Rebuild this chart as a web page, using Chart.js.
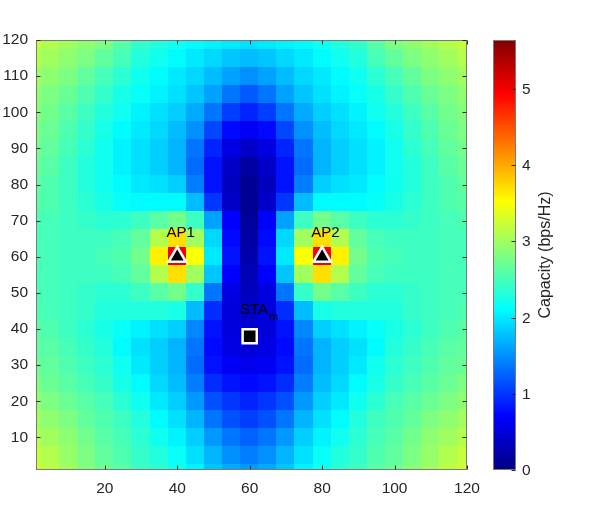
<!DOCTYPE html>
<html>
<head>
<meta charset="utf-8">
<script src="https://cdn.jsdelivr.net/npm/chart.js@4.4.1/dist/chart.umd.min.js"></script>
<style>
  html, body { margin: 0; padding: 0; background: #fff; }
</style>
</head>
<body>
<canvas id="cap" width="598" height="529"></canvas>
<script>
/* DATA */
const gridX = [0, 5, 10, 15, 20, 25, 30, 35, 40, 45, 50, 55, 60, 65, 70, 75, 80, 85, 90, 95, 100, 105, 110, 115, 120];
const gridY = [120, 115, 110, 105, 100, 95, 90, 85, 80, 75, 70, 65, 60, 55, 50, 45, 40, 35, 30, 25, 20, 15, 10, 5, 0];

// capacity (bps/Hz), one row per gridY value
const capacity = [
  [3.2,3.1,3.0,2.9,2.8,2.6,2.4,2.3,2.2,2.1,2.05,2.0,1.95,2.0,2.05,2.1,2.2,2.3,2.4,2.6,2.8,2.9,3.0,3.1,3.2],
  [3.1,3.0,2.9,2.8,2.65,2.5,2.3,2.2,2.1,2.0,1.9,1.8,1.75,1.8,1.9,2.0,2.1,2.2,2.3,2.5,2.65,2.8,2.9,3.0,3.1],
  [3.0,2.9,2.8,2.65,2.5,2.35,2.2,2.1,2.0,1.9,1.75,1.6,1.5,1.6,1.75,1.9,2.0,2.1,2.2,2.35,2.5,2.65,2.8,2.9,3.0],
  [2.9,2.8,2.7,2.55,2.4,2.25,2.15,2.05,1.95,1.8,1.6,1.35,1.2,1.35,1.6,1.8,1.95,2.05,2.15,2.25,2.4,2.55,2.7,2.8,2.9],
  [2.85,2.75,2.6,2.45,2.3,2.2,2.05,1.95,1.85,1.65,1.35,1.05,0.9,1.05,1.35,1.65,1.85,1.95,2.05,2.2,2.3,2.45,2.6,2.75,2.85],
  [2.8,2.7,2.55,2.4,2.25,2.1,2.0,1.9,1.75,1.5,1.1,0.75,0.65,0.75,1.1,1.5,1.75,1.9,2.0,2.1,2.25,2.4,2.55,2.7,2.8],
  [2.75,2.65,2.5,2.35,2.2,2.05,1.95,1.85,1.7,1.35,0.9,0.55,0.4,0.55,0.9,1.35,1.7,1.85,1.95,2.05,2.2,2.35,2.5,2.65,2.75],
  [2.7,2.6,2.45,2.3,2.2,2.05,1.95,1.85,1.7,1.3,0.8,0.4,0.2,0.4,0.8,1.3,1.7,1.85,1.95,2.05,2.2,2.3,2.45,2.6,2.7],
  [2.65,2.55,2.45,2.3,2.2,2.1,2.0,1.95,1.85,1.4,0.8,0.35,0.1,0.35,0.8,1.4,1.85,1.95,2.0,2.1,2.2,2.3,2.45,2.55,2.65],
  [2.6,2.55,2.45,2.35,2.25,2.15,2.1,2.1,2.1,1.75,1.0,0.4,0.1,0.4,1.0,1.75,2.1,2.1,2.1,2.15,2.25,2.35,2.45,2.55,2.6],
  [2.55,2.5,2.45,2.4,2.35,2.35,2.45,2.6,2.75,2.45,1.6,0.7,0.15,0.7,1.6,2.45,2.75,2.6,2.45,2.35,2.35,2.4,2.45,2.5,2.55],
  [2.5,2.5,2.45,2.45,2.45,2.5,2.65,3.1,3.7,3.0,1.9,0.75,0.2,0.75,1.9,3.0,3.7,3.1,2.65,2.5,2.45,2.45,2.45,2.5,2.5],
  [2.5,2.5,2.45,2.45,2.5,2.55,2.75,3.6,5.0,3.5,2.0,0.8,0.25,0.8,2.0,3.5,5.0,3.6,2.75,2.55,2.5,2.45,2.45,2.5,2.5],
  [2.5,2.5,2.45,2.45,2.45,2.5,2.65,3.1,3.7,3.0,1.8,0.7,0.3,0.7,1.8,3.0,3.7,3.1,2.65,2.5,2.45,2.45,2.45,2.5,2.5],
  [2.5,2.5,2.45,2.4,2.35,2.35,2.45,2.6,2.75,2.4,1.35,0.55,0.35,0.55,1.35,2.4,2.75,2.6,2.45,2.35,2.35,2.4,2.45,2.5,2.5],
  [2.55,2.5,2.45,2.4,2.3,2.3,2.3,2.3,2.25,1.75,0.95,0.5,0.4,0.5,0.95,1.75,2.25,2.3,2.3,2.3,2.3,2.4,2.45,2.5,2.55],
  [2.6,2.55,2.45,2.35,2.25,2.15,2.05,1.95,1.85,1.45,0.8,0.5,0.45,0.5,0.8,1.45,1.85,1.95,2.05,2.15,2.25,2.35,2.45,2.55,2.6],
  [2.65,2.6,2.5,2.4,2.3,2.1,1.95,1.85,1.7,1.35,0.75,0.55,0.5,0.55,0.75,1.35,1.7,1.85,1.95,2.1,2.3,2.4,2.5,2.6,2.65],
  [2.7,2.65,2.55,2.45,2.35,2.2,2.0,1.85,1.7,1.3,0.8,0.65,0.6,0.65,0.8,1.3,1.7,1.85,2.0,2.2,2.35,2.45,2.55,2.65,2.7],
  [2.8,2.7,2.6,2.5,2.4,2.25,2.1,1.9,1.75,1.4,0.95,0.8,0.75,0.8,0.95,1.4,1.75,1.9,2.1,2.25,2.4,2.5,2.6,2.7,2.8],
  [2.9,2.8,2.7,2.6,2.5,2.35,2.2,2.0,1.85,1.55,1.15,1.0,0.9,1.0,1.15,1.55,1.85,2.0,2.2,2.35,2.5,2.6,2.7,2.8,2.9],
  [3.0,2.9,2.8,2.65,2.55,2.45,2.3,2.1,1.95,1.7,1.35,1.15,1.05,1.15,1.35,1.7,1.95,2.1,2.3,2.45,2.55,2.65,2.8,2.9,3.0],
  [3.1,3.0,2.9,2.75,2.6,2.5,2.35,2.2,2.05,1.85,1.55,1.35,1.25,1.35,1.55,1.85,2.05,2.2,2.35,2.5,2.6,2.75,2.9,3.0,3.1],
  [3.2,3.1,2.95,2.8,2.65,2.55,2.4,2.3,2.15,1.95,1.7,1.5,1.4,1.5,1.7,1.95,2.15,2.3,2.4,2.55,2.65,2.8,2.95,3.1,3.2],
  [3.25,3.15,3.0,2.85,2.7,2.6,2.45,2.35,2.2,2.05,1.8,1.65,1.55,1.65,1.8,2.05,2.2,2.35,2.45,2.6,2.7,2.85,3.0,3.15,3.25]
];

const apX = [40, 80];
const apY = [60, 60];
const apNames = ["AP1", "AP2"];
const staX = [60];
const staY = [38];

const xTicks = [20, 40, 60, 80, 100, 120];
const yTicks = [10, 20, 30, 40, 50, 60, 70, 80, 90, 100, 110, 120];
const cbTicks = [0, 1, 2, 3, 4, 5];
const cMin = 0;
const cMax = 5.64;

/* HELPERS */
const FONT = '"Liberation Sans", Arial, Helvetica, sans-serif';
const INK = "#262626";
const FRAME = "#7a7a7a";
const half = (gridX[1] - gridX[0]) / 2;

function jet(t) {
  t = Math.min(1, Math.max(0, t));
  const c = k => Math.round(255 * Math.min(1, Math.max(0, 1.5 - Math.abs(4 * t - k))));
  return `rgb(${c(3)},${c(2)},${c(1)})`;
}

/* PLUGINS */
const heatmap = {
  id: "heatmap",
  beforeDatasetsDraw(chart) {
    const { ctx, chartArea: a, scales: { x, y } } = chart;
    ctx.save();
    ctx.beginPath();
    ctx.rect(a.left, a.top, a.width, a.height);
    ctx.clip();
    capacity.forEach((row, j) => {
      row.forEach((v, i) => {
        const x0 = Math.floor(x.getPixelForValue(gridX[i] - half));
        const x1 = Math.ceil(x.getPixelForValue(gridX[i] + half));
        const y0 = Math.floor(y.getPixelForValue(gridY[j] + half));
        const y1 = Math.ceil(y.getPixelForValue(gridY[j] - half));
        ctx.fillStyle = jet((v - cMin) / (cMax - cMin));
        ctx.fillRect(x0, y0, x1 - x0, y1 - y0);
      });
    });
    ctx.restore();
  }
};

const labels = {
  id: "labels",
  afterDatasetsDraw(chart) {
    const { ctx, scales: { x, y } } = chart;
    ctx.save();
    ctx.fillStyle = "#000";
    ctx.textAlign = "left";
    ctx.textBaseline = "alphabetic";
    ctx.font = `15px ${FONT}`;
    apNames.forEach((n, i) => {
      ctx.fillText(n, x.getPixelForValue(apX[i] - 3), y.getPixelForValue(apY[i] + 5.4));
    });
    const sx = x.getPixelForValue(staX[0] - 2.7);
    const sy = y.getPixelForValue(staY[0] + 6.1);
    ctx.fillText("STA", sx, sy);
    const w = ctx.measureText("STA").width;
    ctx.font = `11px ${FONT}`;
    ctx.fillText("m", sx + w + 1, sy + 6);
    ctx.restore();
  }
};

const frame = {
  id: "frame",
  afterDraw(chart) {
    const { ctx, chartArea: a, scales: { x, y } } = chart;
    const tl = 4;
    ctx.save();
    ctx.strokeStyle = FRAME;
    ctx.lineWidth = 1;
    const L = Math.round(a.left) + 0.5, R = Math.round(a.right) - 0.5;
    const T = Math.round(a.top) + 0.5, B = Math.round(a.bottom) - 0.5;
    ctx.strokeRect(L, T, R - L, B - T);

    ctx.strokeStyle = INK;
    ctx.beginPath();
    xTicks.forEach(v => {
      const px = Math.round(x.getPixelForValue(v)) + 0.5;
      ctx.moveTo(px, B); ctx.lineTo(px, B - tl);
      ctx.moveTo(px, T); ctx.lineTo(px, T + tl);
    });
    yTicks.forEach(v => {
      const py = Math.round(y.getPixelForValue(v)) + 0.5;
      ctx.moveTo(L, py); ctx.lineTo(L + tl, py);
      ctx.moveTo(R, py); ctx.lineTo(R - tl, py);
    });
    ctx.stroke();

    /* COLORBAR */
    const cbL = Math.round(a.right) + 26, cbW = 23;
    const cbT = Math.round(a.top), cbB = Math.round(a.bottom);
    const g = ctx.createLinearGradient(0, cbB, 0, cbT);
    [0, 0.125, 0.375, 0.625, 0.875, 1].forEach(s => g.addColorStop(s, jet(s)));
    ctx.fillStyle = g;
    ctx.fillRect(cbL, cbT, cbW, cbB - cbT);
    ctx.strokeStyle = FRAME;
    ctx.strokeRect(cbL + 0.5, cbT + 0.5, cbW - 1, cbB - cbT - 1);

    const cbPix = v => cbB - (v - cMin) / (cMax - cMin) * (cbB - cbT);
    ctx.strokeStyle = INK;
    ctx.fillStyle = INK;
    ctx.font = `15.5px ${FONT}`;
    ctx.textAlign = "left";
    ctx.textBaseline = "middle";
    ctx.beginPath();
    cbTicks.forEach(v => {
      const py = Math.round(cbPix(v)) + 0.5;
      ctx.moveTo(cbL + cbW - 0.5, py); ctx.lineTo(cbL + cbW - 4.5, py);
      ctx.fillText(String(v), cbL + cbW + 6, py);
    });
    ctx.stroke();

    ctx.translate(cbL + cbW + 30, (cbT + cbB) / 2);
    ctx.rotate(-Math.PI / 2);
    ctx.textAlign = "center";
    ctx.font = `16px ${FONT}`;
    ctx.fillText("Capacity (bps/Hz)", 0, 0);
    ctx.restore();
  }
};

/* CHART */
new Chart(document.getElementById("cap"), {
  type: "scatter",
  data: {
    datasets: [
      {
        data: apX.map((v, i) => ({ x: v, y: apY[i] })),
        pointStyle: "triangle",
        pointRadius: 10,
        pointHoverRadius: 10,
        backgroundColor: "#000",
        borderColor: "#fff",
        borderWidth: 2.5
      },
      {
        data: staX.map((v, i) => ({ x: v, y: staY[i] })),
        pointStyle: "rect",
        pointRadius: 10,
        pointHoverRadius: 10,
        backgroundColor: "#000",
        borderColor: "#fff",
        borderWidth: 2.5
      }
    ]
  },
  options: {
    responsive: false,
    animation: false,
    devicePixelRatio: 1,
    events: [],
    layout: { padding: { left: 0, right: 131, top: 40, bottom: 29 } },
    plugins: { legend: { display: false }, tooltip: { enabled: false } },
    scales: {
      x: {
        type: "linear",
        min: 1,
        max: 120,
        afterBuildTicks: s => { s.ticks = xTicks.map(v => ({ value: v })); },
        afterFit: s => { s.height = 30; },
        grid: { display: false, drawTicks: false },
        border: { display: false },
        ticks: { autoSkip: false, maxRotation: 0, padding: 9, color: INK, font: { family: FONT, size: 15.5 } }
      },
      y: {
        type: "linear",
        min: 1,
        max: 120,
        afterBuildTicks: s => { s.ticks = yTicks.map(v => ({ value: v })); },
        afterFit: s => { s.width = 36; },
        grid: { display: false, drawTicks: false },
        border: { display: false },
        ticks: { autoSkip: false, padding: 8, color: INK, font: { family: FONT, size: 15.5 } }
      }
    }
  },
  plugins: [heatmap, labels, frame]
});
</script>
</body>
</html>
